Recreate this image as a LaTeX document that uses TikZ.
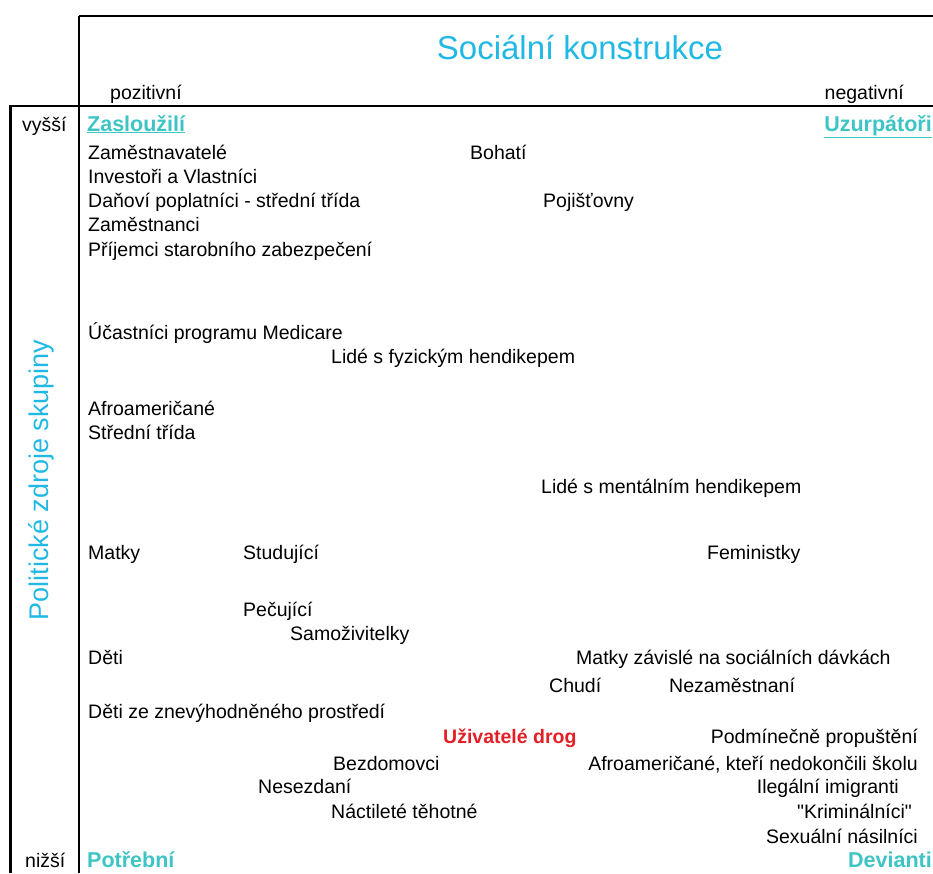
\documentclass[tikz,border=0pt]{standalone}
\usepackage{fontspec}
\setmainfont{Liberation Sans}
\definecolor{titlecyan}{RGB}{34,184,228}
\definecolor{headteal}{RGB}{62,196,196}
\definecolor{drugred}{RGB}{228,30,38}
\newcommand{\bodyfont}{\fontsize{19.5}{23}\selectfont}
\begin{document}
\begin{tikzpicture}[x=1pt,y=-1pt,
  txt/.style={anchor=base west,inner sep=0pt,font=\bodyfont},
  rtxt/.style={txt,anchor=base east},
  head/.style={font=\fontsize{21.5}{25}\selectfont\bfseries,text=headteal},
  frame/.style={line width=1.8pt,black}]
\useasboundingbox (0,0) rectangle (933,873);
\clip (0,0) rectangle (933,873);

% frame of the chart
\coordinate (tl) at (79,16);
\coordinate (tr) at (933,16);
\coordinate (bl) at (79,873);
\coordinate (ml) at (9,106);
\coordinate (mr) at (933,106);
\coordinate (ll) at (10,106);
\coordinate (lb) at (10,873);
\draw[frame] (tl) -- (tr);
\draw[frame] (tl) -- (bl);
\draw[frame] (ml) -- (mr);
\draw[line width=3pt] (ll) -- (lb);

% axis titles
\node[anchor=base,inner sep=0pt,text=titlecyan,font=\fontsize{33}{40}\selectfont] (title) at (580,59) {Sociální konstrukce};
\node[rotate=90,inner sep=0pt,text=titlecyan,font=\fontsize{27}{32}\selectfont] (vtitle) at (41,480) {Politické zdroje skupiny};

\node[txt] (pos) at (110,99) {pozitivní};
\node[rtxt] (neg) at (904,99) {negativní};
\node[txt] (hi) at (22,131) {vyšší};
\node[txt] (lo) at (25,867) {nižší};

% quadrant headings
\node[txt,head] (q1) at (87,131) {\underline{Zasloužilí}};
\node[rtxt,head] (q2) at (932,131) {\underline{Uzurpátoři}};
\node[txt,head] (q3) at (87,867) {Potřební};
\node[rtxt,head] (q4) at (932,867) {Devianti};

% groups
\node[txt] (g1) at (88,159) {Zaměstnavatelé};
\node[txt] (g2) at (470,159) {Bohatí};
\node[txt] (g3) at (88,183) {Investoři a Vlastníci};
\node[txt] (g4) at (88,207) {Daňoví poplatníci - střední třída};
\node[txt] (g5) at (543,207) {Pojišťovny};
\node[txt] (g6) at (88,231) {Zaměstnanci};
\node[txt] (g7) at (88,256) {Příjemci starobního zabezpečení};
\node[txt] (g8) at (88,339) {Účastníci programu Medicare};
\node[txt] (g9) at (331,363) {Lidé s fyzickým hendikepem};
\node[txt] (g10) at (88,415) {Afroameričané};
\node[txt] (g11) at (88,439) {Střední třída};
\node[txt] (g12) at (541,493) {Lidé s mentálním hendikepem};
\node[txt] (g13) at (88,559) {Matky};
\node[txt] (g14) at (243,559) {Studující};
\node[txt] (g15) at (707,559) {Feministky};
\node[txt] (g16) at (243,616) {Pečující};
\node[txt] (g17) at (290,640) {Samoživitelky};
\node[txt] (g18) at (88,664) {Děti};
\node[txt] (g19) at (576,664) {Matky závislé na sociálních dávkách};
\node[txt] (g20) at (549,692) {Chudí};
\node[txt] (g21) at (669,692) {Nezaměstnaní};
\node[txt] (g22) at (88,718) {Děti ze znevýhodněného prostředí};
\node[txt,font=\bodyfont\bfseries,text=drugred] (g23) at (443,743) {Uživatelé drog};
\node[rtxt] (g24) at (918,743) {Podmínečně propuštění};
\node[txt] (g25) at (333,770) {Bezdomovci};
\node[rtxt] (g26) at (918,770) {Afroameričané, kteří nedokončili školu};
\node[txt] (g27) at (258,793) {Nesezdaní};
\node[rtxt] (g28) at (899,793) {Ilegální imigranti};
\node[txt] (g29) at (331,818) {Náctileté těhotné};
\node[rtxt] (g30) at (912,818) {\textquotedbl Kriminálníci\textquotedbl};
\node[rtxt] (g31) at (918,843) {Sexuální násilníci};
\end{tikzpicture}
\end{document}
